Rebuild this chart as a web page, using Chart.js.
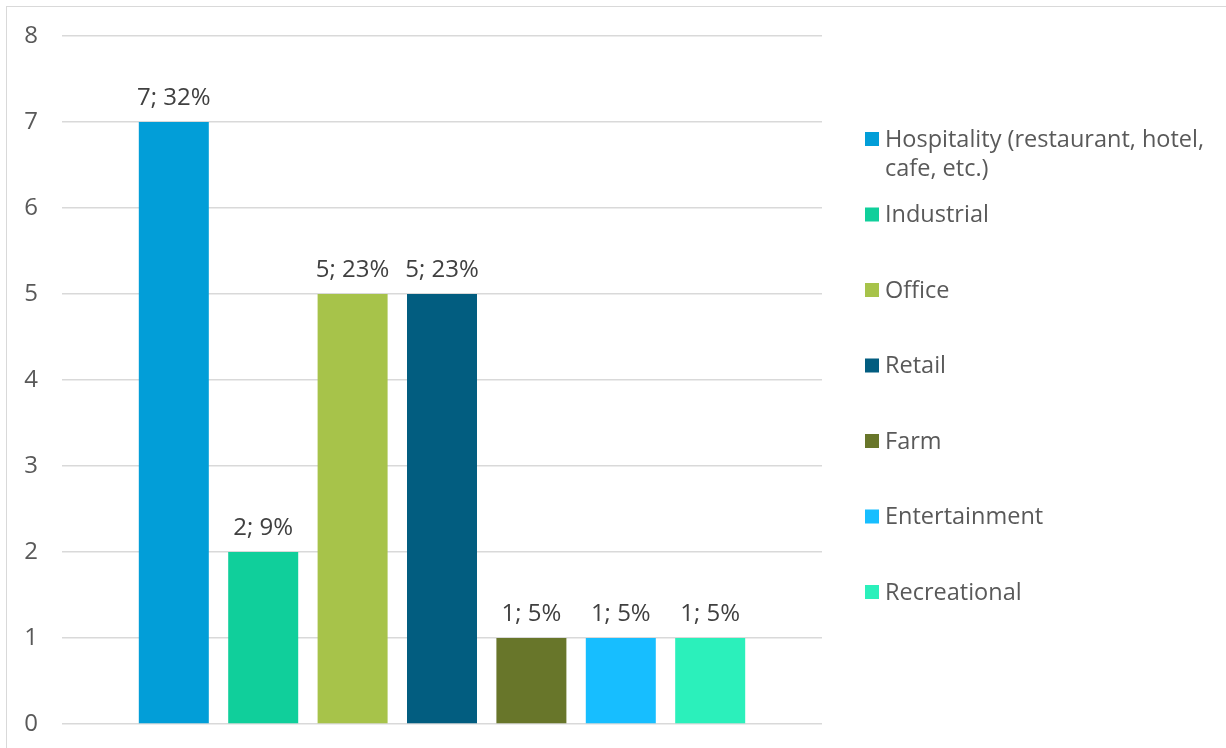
<!DOCTYPE html>
<html>
<head>
<meta charset="utf-8">
<script src="https://cdn.jsdelivr.net/npm/chart.js@4.4.1/dist/chart.umd.min.js"></script>
<style>
  html, body { margin: 0; padding: 0; background: #ffffff; }
  #wrap { position: relative; width: 1226px; height: 748px; overflow: hidden; background: #fff; }
  #frame { position: absolute; left: 6px; top: 6px; width: 1230px; height: 760px; border: 1.5px solid #d9d9d9; box-sizing: border-box; pointer-events: none; }
  canvas { position: absolute; left: 0; top: 0; }
</style>
</head>
<body>
<div id="wrap">
  <canvas id="c" width="1226" height="748"></canvas>
  <div id="frame"></div>
</div>
<script>
// ---- data ----
const categories = [
  "Hospitality (restaurant, hotel, cafe, etc.)",
  "Industrial",
  "Office",
  "Retail",
  "Farm",
  "Entertainment",
  "Recreational"
];
const counts = [7, 2, 5, 5, 1, 1, 1];
const percents = ["32%", "9%", "23%", "23%", "5%", "5%", "5%"];
const colors = ["#029ED8", "#10CF9B", "#A7C34A", "#025D80", "#68762A", "#17BEFF", "#2BF0BB"];
const yTicks = [0, 1, 2, 3, 4, 5, 6, 7, 8];

const FONT = "'Open Sans', Lato, sans-serif";

const datasets = categories.map((name, i) => ({
  label: name,
  data: [counts[i]],
  backgroundColor: colors[i],
  borderWidth: 0,
  categoryPercentage: 0.8234,
  barPercentage: 0.783
}));

const dataLabelPlugin = {
  id: 'dataLabels',
  afterDatasetsDraw(chart) {
    const ctx = chart.ctx;
    ctx.save();
    ctx.font = "24px " + FONT;
    ctx.fillStyle = "#404040";
    ctx.textAlign = "center";
    ctx.textBaseline = "middle";
    chart.data.datasets.forEach((ds, i) => {
      const meta = chart.getDatasetMeta(i);
      meta.data.forEach((bar) => {
        ctx.fillText(counts[i] + "; " + percents[i], bar.x, bar.y - 24);
      });
    });
    ctx.restore();
  }
};

const legendPlugin = {
  id: 'sideLegend',
  afterDraw(chart) {
    const ctx = chart.ctx;
    ctx.save();
    ctx.font = "23.5px " + FONT;
    ctx.textAlign = "left";
    ctx.textBaseline = "middle";
    const markerX = 865, textX = 885, maxW = 335, firstY = 139, step = 75.5, lineH = 29;
    chart.data.datasets.forEach((ds, i) => {
      const cy = firstY + i * step;
      ctx.fillStyle = ds.backgroundColor;
      ctx.fillRect(markerX, cy - 7, 14, 14);
      const words = ds.label.split(" ");
      const lines = [];
      let cur = "";
      words.forEach(w => {
        const t = cur ? cur + " " + w : w;
        if (ctx.measureText(t).width > maxW && cur) { lines.push(cur); cur = w; }
        else cur = t;
      });
      if (cur) lines.push(cur);
      ctx.fillStyle = "#595959";
      lines.forEach((ln, k) => ctx.fillText(ln, textX, cy + 1 + k * lineH));
    });
    ctx.restore();
  }
};

new Chart(document.getElementById('c'), {
  type: 'bar',
  data: { labels: [""], datasets },
  options: {
    responsive: false,
    animation: false,
    layout: { padding: { top: 36, bottom: 24, left: 0, right: 404 } },
    plugins: { legend: { display: false }, tooltip: { enabled: false } },
    scales: {
      x: { display: false, grid: { display: false } },
      y: {
        min: 0, max: 8,
        afterFit(scale) { scale.width = 62; },
        afterBuildTicks(scale) { scale.ticks = yTicks.map(v => ({ value: v })); },
        border: { display: false },
        grid: { color: "#d9d9d9", lineWidth: 1.5, drawTicks: true, tickLength: 24, tickColor: "rgba(0,0,0,0)" },
        ticks: { padding: 0, color: "#595959", font: { family: FONT, size: 24 } }
      }
    }
  },
  plugins: [dataLabelPlugin, legendPlugin]
});
</script>
</body>
</html>
